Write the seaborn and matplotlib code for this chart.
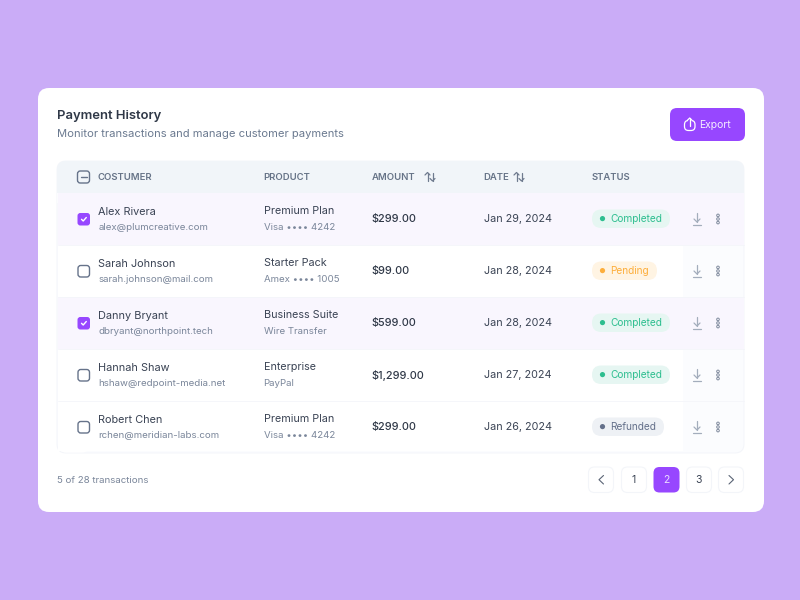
import matplotlib
matplotlib.use("Agg")
import matplotlib.pyplot as plt
from matplotlib.patches import FancyBboxPatch, Circle, Rectangle
import seaborn as sns
import pandas as pd

# ---------- data ----------
customers = ["Alex Rivera", "Sarah Johnson", "Danny Bryant", "Hannah Shaw", "Robert Chen"]
emails = ["alex@plumcreative.com", "sarah.johnson@mail.com", "dbryant@northpoint.tech",
          "hshaw@redpoint-media.net", "rchen@meridian-labs.com"]
products = ["Premium Plan", "Starter Pack", "Business Suite", "Enterprise", "Premium Plan"]
payments = ["Visa •••• 4242", "Amex •••• 1005", "Wire Transfer", "PayPal", "Visa •••• 4242"]
amounts = ["$299.00", "$99.00", "$599.00", "$1,299.00", "$299.00"]
dates = ["Jan 29, 2024", "Jan 28, 2024", "Jan 28, 2024", "Jan 27, 2024", "Jan 26, 2024"]
statuses = ["Completed", "Pending", "Completed", "Completed", "Refunded"]
selected = [True, False, True, False, False]
headers = ["COSTUMER", "PRODUCT", "AMOUNT", "DATE", "STATUS"]
pages = ["1", "2", "3"]

FONT = "Inter"
sns.set_theme(style="white", rc={"font.family": FONT})
BG, CARD = "#CAACF7", "#FFFFFF"
PURPLE = "#9747FF"
STATUS_STYLE = {
    "Completed": ("#E6F6F2", "#2DBE8F", 78),
    "Pending": ("#FFF4E3", "#FDAE3B", 65),
    "Refunded": ("#EEF1F5", "#64708A", 72),
}

fig, ax = plt.subplots(figsize=(8, 6), dpi=100)
fig.subplots_adjust(0, 0, 1, 1)
ax.set_xlim(0, 800)
ax.set_ylim(600, 0)
ax.axis("off")
fig.patch.set_facecolor(BG)


def rbox(x0, y0, x1, y1, r, fc, ec="none", lw=0, z=1):
    p = FancyBboxPatch((x0 + r, y0 + r), x1 - x0 - 2 * r, y1 - y0 - 2 * r,
                       boxstyle=f"round,pad={r},rounding_size={r}",
                       fc=fc, ec=ec, lw=lw, zorder=z, mutation_aspect=1)
    ax.add_patch(p)
    return p


def txt(x, y, s, px, c="#2F3A4C", ha="left", w=400, z=6, **k):
    ax.text(x, y + 0.3, s, fontsize=px * 0.72, color=c, ha=ha, va="center", fontweight=w, zorder=z, **k)


def line(xs, ys, c, lw=1.0, z=6):
    ax.plot(xs, ys, color=c, lw=lw, zorder=z, solid_capstyle="round", solid_joinstyle="round")


# card
rbox(38, 88, 764, 512, 11, CARD, z=0)
txt(57.3, 115.5, "Payment History", 13, "#2F3847", w=600)
txt(57.3, 133.5, "Monitor transactions and manage customer payments", 11.2, "#6B7A90")

# export button
rbox(670, 108, 745, 141, 7, PURPLE, z=2)
txt(699, 125, "Export", 10.4, "#F5EDFF")
rbox(684.5, 120.5, 695, 130.5, 4, "none", ec="white", lw=0.9, z=6)
ax.add_patch(Rectangle((687.5, 118), 4, 5, fc=PURPLE, ec="none", zorder=6.2))
line([689.7, 689.7], [118, 126], "white", 0.9, 7)
line([687.4, 689.7, 692], [120.3, 118, 120.3], "white", 0.9, 7)

# table
rbox(57, 161, 744, 453, 9, "#FBFCFE", ec="#F3F5FA", lw=0.7, z=1)
rbox(57, 161, 744, 200, 9, "#F1F5F9", z=2)
ax.add_patch(Rectangle((57, 193), 687, 10, fc="#FBFCFE", ec="none", zorder=2.1))
row_top = [193, 245, 297, 349, 401]
row_h = 52
for i, top in enumerate(row_top):
    if selected[i]:
        ax.add_patch(Rectangle((57.5, top), 686.5, row_h, fc="#F9F6FE", ec="none", zorder=2.5))
    else:
        ax.add_patch(Rectangle((57.5, top), 625, row_h - (2 if i == 4 else 0), fc="#FFFFFF", ec="none", zorder=2.5))
    if i > 0:
        line([57.5, 744], [top, top], "#F4F5FA", 0.6, 3)
rbox(58, 430, 90, 452.5, 8, "#FFFFFF", z=2.7)

# header
header_x = [97.7, 263.5, 371.7, 483.6, 591.7]
for h, x in zip(headers, header_x):
    txt(x, 177, h, 9.5, "#667387", w=600)
rbox(77.5, 171, 89.5, 183, 2.8, "none", ec="#66738A", lw=1.0, z=5)
line([80.5, 86.5], [177, 177], "#66738A", 1.0)


def sort_icon(x):
    line([x + 2.5, x + 2.5], [172.5, 181], "#6F7B8F", 0.9)
    line([x, x + 2.5, x + 5], [175, 172.5, 175], "#6F7B8F", 0.9)
    line([x + 7.5, x + 7.5], [172.5, 181], "#6F7B8F", 0.9)
    line([x + 5, x + 7.5, x + 10], [178.5, 181, 178.5], "#6F7B8F", 0.9)


sort_icon(425)
sort_icon(514)

# rows
for i, top in enumerate(row_top):
    cy = top + 26
    if selected[i]:
        rbox(77.5, cy - 6, 90, cy + 6.5, 2.8, PURPLE, z=5)
        line([81.5, 83.2, 86.3], [cy + .3, cy + 2, cy - 1.5], "white", 1.0)
    else:
        rbox(78, cy - 5.5, 89.5, cy + 6, 2.8, "none", ec="#66738A", lw=1.0, z=5)
    txt(98.2, cy - 7.6, customers[i], 10.9, "#3A4354")
    txt(98.2, cy + 8.6, emails[i], 9.7, "#7A869A")
    txt(263.6, cy - 8.2, products[i], 10.8, "#3A4354")
    txt(263.6, cy + 8.2, payments[i], 9.7, "#7A869A")
    txt(371.6, cy - 0.2, amounts[i], 10.9, "#2F3847", w=500)
    txt(484, cy - 0.2, dates[i], 10.8, "#3A4354")
    fc, col, w = STATUS_STYLE[statuses[i]]
    rbox(592, cy - 9.5, 592 + w, cy + 9, 9.2, fc, z=4)
    txt(610.3, cy - 0.2, statuses[i], 10.1, col)
    ix, dx = 697, 718
    line([ix, ix], [cy - 6, cy + 3], "#A3ADBC", 0.9)
    line([ix - 3, ix, ix + 3], [cy, cy + 3, cy], "#A3ADBC", 0.9)
    line([ix - 4, ix + 4], [cy + 6, cy + 6], "#A3ADBC", 0.9)
    for d in (-3.6, 0, 3.6):
        ax.add_patch(Circle((dx, cy + d), 1.3, fc="none", ec="#7E899C", lw=0.7, zorder=6))

# status dots drawn through seaborn
dots = pd.DataFrame({"x": [602.5] * 5, "y": [t + 25.6 for t in row_top], "s": statuses})
sns.scatterplot(data=dots, x="x", y="y", hue="s", ax=ax, s=14, linewidth=0, legend=False, zorder=7,
                palette={k: v[1] for k, v in STATUS_STYLE.items()})
ax.set_xlim(0, 800)
ax.set_ylim(600, 0)

# footer
txt(57.3, 480, "5 of 28 transactions", 9.7, "#7A869A")
for x0, x1 in [(588, 614), (621, 647), (653, 680), (686, 712), (718, 744)]:
    active = x0 == 653
    rbox(x0 + .5, 467, x1 - .5, 492.5, 6, PURPLE if active else "white",
         ec="none" if active else "#F3F5F9", lw=0.8, z=3)
for p, x, c in zip(pages, [633.5, 666, 699], ["#3A4354", "#EBDDFF", "#3A4354"]):
    txt(x, 480, p, 10.4, c, ha="center")
line([603.5, 599, 603.5], [475.5, 479.7, 484], "#5A6475", 0.8)
line([729, 733.5, 729], [475.5, 479.7, 484], "#5A6475", 0.8)

fig.savefig("out.png", dpi=100, facecolor=BG)
